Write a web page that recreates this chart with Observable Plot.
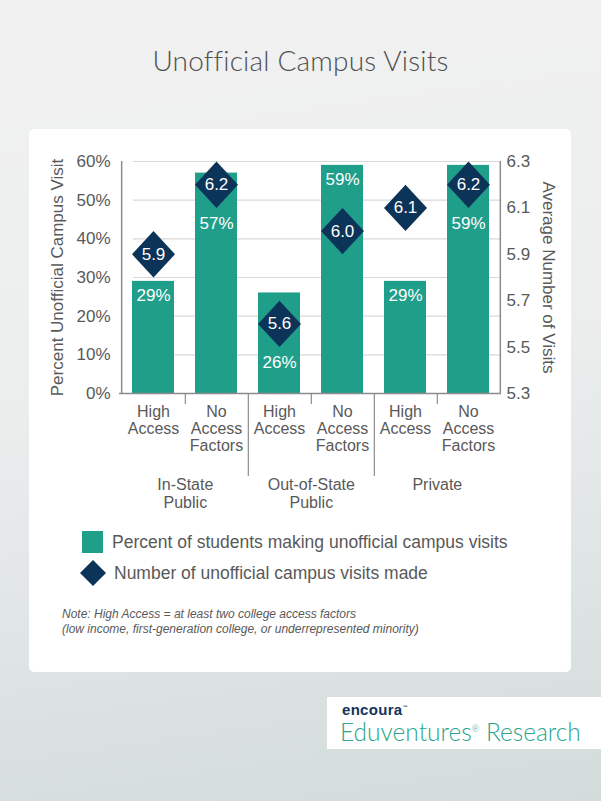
<!DOCTYPE html>
<html>
<head>
<meta charset="utf-8">
<script src="https://cdn.jsdelivr.net/npm/d3@7"></script>
<script src="https://cdn.jsdelivr.net/npm/@observablehq/plot@0.6"></script>
<style>
  html, body { margin: 0; padding: 0; }
  body { width: 601px; height: 801px; overflow: hidden; font-family: "Liberation Sans", Arial, sans-serif; }
  #page { position: relative; width: 601px; height: 801px;
    background: linear-gradient(172deg, #f1f1f1 0%, #eceeee 45%, #d3dbdb 100%); }
  #title { position: absolute; left: 0; top: 43px; width: 601px; text-align: center;
    font-family: Lato, "Open Sans", sans-serif; font-weight: 300; font-size: 28px; color: #4f4f4f; letter-spacing: 0.2px; }
  #card { position: absolute; left: 29px; top: 129px; width: 542px; height: 543px; background: #fff; border-radius: 5px; }
  #chart { position: absolute; left: 0; top: 140px; }
  .leg { position: absolute; left: 80px; display: flex; align-items: center; font-size: 17.5px; color: #595959; }
  .leg svg { margin-right: 8px; }
  #note { position: absolute; left: 62px; top: 607px; font-size: 12px; font-style: italic; color: #595959; line-height: 15px; }
  #logo { position: absolute; left: 327px; top: 697px; width: 274px; height: 52px; background: #fff; }
  #logo .enc { position: absolute; left: 15px; top: 4px; font-family: "Liberation Sans", Arial, sans-serif; font-weight: bold; font-size: 15px; color: #13335a; letter-spacing: 0.3px; }
  #logo .edu { position: absolute; left: 13px; top: 20px; font-family: Lato, "Open Sans", sans-serif; font-weight: 300; font-size: 24.5px; color: #2aa58d; white-space: nowrap; }
</style>
</head>
<body>
<div id="page">
  <div id="title">Unofficial Campus Visits</div>
  <div id="card"></div>
  <div id="chart"></div>
  <div class="leg" style="top:531px;"><svg width="24" height="22"><rect x="2" y="0" width="21" height="22" fill="#1f9e89"></rect></svg><span>Percent of students making unofficial campus visits</span></div>
  <div class="leg" style="top:560px;"><svg width="26" height="26"><polygon points="13,0 26,13 13,26 0,13" fill="#0c3358"></polygon></svg><span>Number of unofficial campus visits made</span></div>
  <div id="note">Note: High Access = at least two college access factors<br>(low income, first-generation college, or underrepresented minority)</div>
  <div id="logo"><div class="enc">encoura<sup style="font-size:5px">™</sup></div><div class="edu">Eduventures<sup style="font-size:9px">®</sup> Research</div></div>
</div>
<script>
// ---- data ----
const groups = ["In-State Public", "Out-of-State Public", "Private"];
const groupLabels = ["In-State\nPublic", "Out-of-State\nPublic", "Private"];
const subgroups = ["High Access", "No Access Factors"];
const subLabels = ["High\nAccess", "No\nAccess\nFactors"];
const percentVisiting = [29, 57, 26, 59, 29, 59];
const avgVisits = [5.9, 6.2, 5.6, 6.0, 6.1, 6.2];
const leftTicks = [0, 10, 20, 30, 40, 50, 60];
const rightTicks = [5.3, 5.5, 5.7, 5.9, 6.1, 6.3];
const leftTitle = "Percent Unofficial Campus Visit";
const rightTitle = "Average Number of Visits";

// ---- build ----
const teal = "#1f9e89", navy = "#0c3358", textGray = "#595959", axisGray = "#8c8c8c";
const rows = groups.flatMap((g, gi) => subgroups.map((s, si) => ({
  key: g + "|" + s, group: g, gi, si,
  pct: percentVisiting[gi * 2 + si], visits: avgVisits[gi * 2 + si]
})));
const keys = rows.map(d => d.key);
const rMin = rightTicks[0], rMax = rightTicks[rightTicks.length - 1];
const lMax = leftTicks[leftTicks.length - 1];
const toLeft = v => (v - rMin) / (rMax - rMin) * lMax;
const fromLeft = p => rMin + p / lMax * (rMax - rMin);

const W = 601, H = 380, mL = 119, mR = 100, mT = 21, mB = 127;
const step = (W - mL - mR) / keys.length;
const pxPerUnit = (H - mT - mB) / lMax;
const px = p => -p / pxPerUnit; // pixel distance below the baseline, in y units

// label below diamond if diamond sits just under the bar top
const belowDiamond = d => { const dp = toLeft(d.visits); return dp < d.pct && d.pct - dp < 10; };

const diamond = {
  draw(context, size) {
    const r = Math.sqrt(size / Math.PI);
    const h = r * 1.08;
    context.moveTo(0, -h); context.lineTo(r, 0); context.lineTo(0, h); context.lineTo(-r, 0); context.closePath();
  }
};

const firstOfGroup = rows.filter(d => d.si === 0);
const lastOfGroup = rows.filter(d => d.si === 1);

const chart = Plot.plot({
  width: W, height: H, marginLeft: mL, marginRight: mR, marginTop: mT, marginBottom: mB,
  style: { background: "transparent", fontFamily: "'Liberation Sans', Arial, sans-serif", fontSize: "17px", color: textGray, overflow: "visible" },
  x: { domain: keys, paddingInner: 0.34, paddingOuter: 0.17, axis: null },
  y: { domain: [0, lMax] },
  marks: [
    Plot.ruleY(leftTicks.filter(t => t > 0), { stroke: "#d9d9d9", strokeWidth: 1.2, insetLeft: 14 }),
    Plot.barY(rows, { x: "key", y: "pct", fill: teal }),
    Plot.ruleY([0], { stroke: axisGray, strokeWidth: 1.5 }),
    // left and right axis lines
    Plot.ruleX([keys[0]], { x: d => d, dx: -step / 2, y1: () => 0, y2: () => lMax, stroke: axisGray, strokeWidth: 1.5 }),
    Plot.ruleX([keys[keys.length - 1]], { x: d => d, dx: step / 2, y1: () => 0, y2: () => lMax, stroke: axisGray, strokeWidth: 1.5 }),
    // separators
    Plot.ruleX(firstOfGroup, { x: "key", dx: step / 2, y1: () => 0, y2: () => px(11), stroke: axisGray, strokeWidth: 1.2 }),
    Plot.ruleX(lastOfGroup.slice(0, -1), { x: "key", dx: step / 2, y1: () => 0, y2: () => px(83), stroke: axisGray, strokeWidth: 1.2 }),
    // axes
    Plot.axisY({ anchor: "left", ticks: leftTicks, tickFormat: d => d + "%", tickSize: 0, tickPadding: 9, label: null, fontSize: 17 }),
    Plot.axisY({ anchor: "right", ticks: rightTicks.map(toLeft), tickFormat: v => fromLeft(v).toFixed(1), tickSize: 0, tickPadding: 5, label: null, fontSize: 17 }),
    Plot.text([leftTitle], { frameAnchor: "left", rotate: -90, dx: -62, textAnchor: "middle", fontSize: 17, fill: textGray }),
    Plot.text([rightTitle], { frameAnchor: "right", rotate: 90, dx: 47, textAnchor: "middle", fontSize: 17, fill: textGray }),
    // diamonds
    Plot.dot(rows, { x: "key", y: d => toLeft(d.visits), symbol: diamond, r: 21.5, fill: navy, stroke: null }),
    Plot.text(rows, { x: "key", y: d => toLeft(d.visits), text: d => d.visits.toFixed(1), fill: "white", fontSize: 17 }),
    // bar labels
    Plot.text(rows.filter(d => !belowDiamond(d)), { x: "key", y: "pct", dy: 14, text: d => d.pct + "%", fill: "white", fontSize: 17 }),
    Plot.text(rows.filter(belowDiamond), { x: "key", y: d => toLeft(d.visits), dy: 39, text: d => d.pct + "%", fill: "white", fontSize: 17 }),
    // category labels
    Plot.text(rows, { x: "key", y: () => 0, dy: 11, lineAnchor: "top", text: d => subLabels[d.si], fontSize: 16, lineHeight: 1.07, fill: textGray }),
    Plot.text(firstOfGroup, { x: "key", y: () => 0, dy: 83, dx: step / 2, lineAnchor: "top", text: d => groupLabels[d.gi], fontSize: 16, lineHeight: 1.15, fill: textGray })
  ]
});
document.getElementById("chart").appendChild(chart);
</script>
</body>
</html>
